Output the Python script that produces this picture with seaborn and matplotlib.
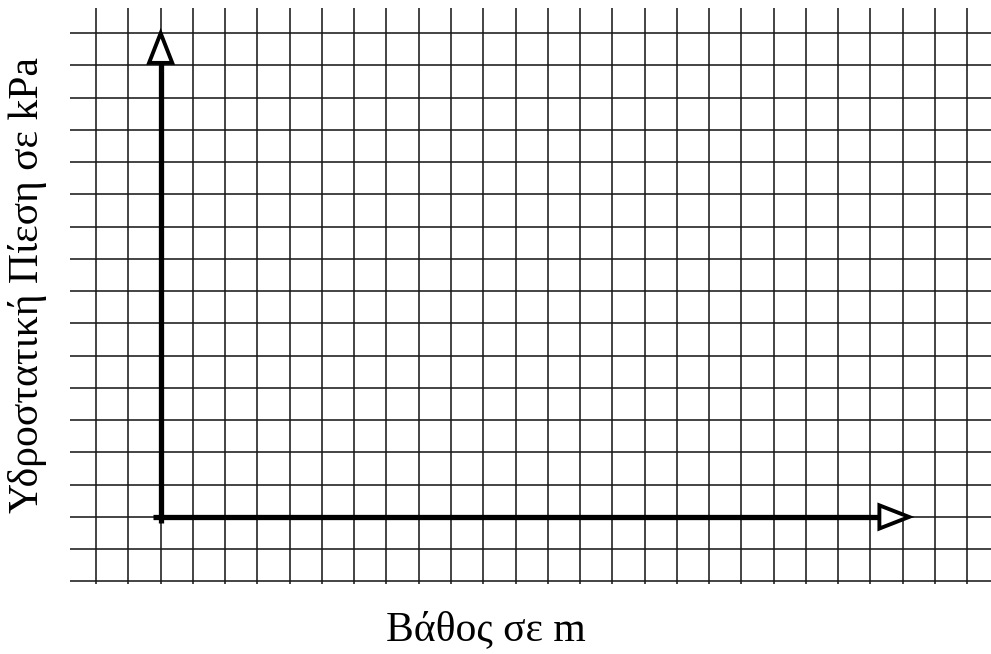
# Grid paper chart with empty axes (pressure vs depth)

import numpy as np
import matplotlib.pyplot as plt
import seaborn as sns

sns.set_theme(style="white")
plt.rcParams['font.family'] = ['Liberation Serif', 'DejaVu Serif']

# grid lines, in grid units (origin where the two axes meet)
x_lines = list(range(-2, 26))
y_lines = list(range(-2, 16))
x_label = "Βάθος σε m"
y_label = "Υδροστατική Πίεση σε kPa"

# axis extents
x_axis_start, x_axis_end = -0.24, 23.2
y_axis_start, y_axis_end = -0.2, 15.0

fig = plt.figure(figsize=(9.91, 6.54), dpi=100)
ax = fig.add_axes([0, 0, 1, 1])
ax.set_xlim(-4.98, 25.74)
ax.set_ylim(-4.25, 16.03)
ax.axis('off')

# grid paper
ax.vlines(x_lines, -2.08, 15.78, color='#1a1a1a', lw=1.15, zorder=1)
ax.hlines(y_lines, -2.81, 25.74, color='#1a1a1a', lw=1.15, zorder=1)

# axes with open arrow heads
hl, hw = 0.92, 0.36
ax.plot([x_axis_start, x_axis_end - hl], [0, 0], color='black', lw=3.8,
        solid_capstyle='butt', zorder=3)
ax.plot([0, 0], [y_axis_start, y_axis_end - hl], color='black', lw=3.8,
        solid_capstyle='butt', zorder=3)
ax.fill([x_axis_end - hl, x_axis_end, x_axis_end - hl], [-hw, 0, hw],
        facecolor='white', edgecolor='black', lw=2.8, zorder=4)
ax.fill([-hw, 0, hw], [y_axis_end - hl, y_axis_end, y_axis_end - hl],
        facecolor='white', edgecolor='black', lw=2.8, zorder=4)

fig.text(486 / 991, 1 - 630 / 654, x_label, fontsize=30, ha='center', va='center',
         color='black')
fig.text(28 / 991, 1 - 285 / 654, y_label, fontsize=30, ha='center', va='center',
         rotation=90, color='black')

fig.savefig("out.png", dpi=100)
